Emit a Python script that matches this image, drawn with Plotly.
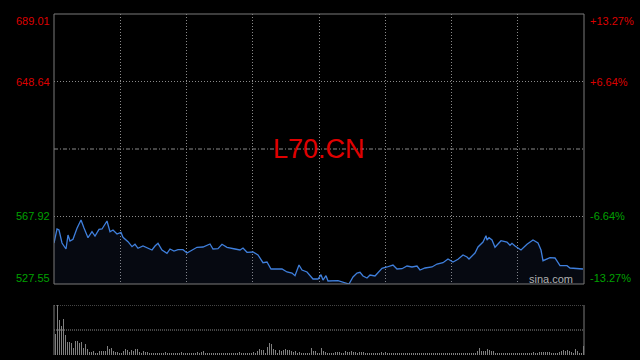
import plotly.graph_objects as go
import numpy as np

# ---- data ----
t = [0, 1.5, 2.5, 4, 6, 7, 8, 9.5, 11.5, 13.5, 15, 17, 19, 20.5, 22.5, 24, 26.5, 28, 29.5, 31.5,
     33.5, 34.5, 37, 39, 40.5, 42, 44.5, 46.5, 49, 50.5, 52, 54, 56.5, 58, 60, 62, 64.5, 66.5, 69.5, 71.5,
     74.5, 78, 79.5, 82, 84, 86.5, 90.5, 93, 94.5, 96.5, 99.5, 102, 104.5, 106.5, 108.5, 114, 116.5, 119, 120.5, 122.5,
     124, 126.5, 129.5, 132, 133.5, 134.5, 136, 137, 142, 144.5, 147.5, 149.5, 151.5, 153, 154.5, 156.5, 158, 160.5, 164, 166.5,
     169.5, 171.5, 174, 176.5, 179, 181.5, 183, 185.5, 189, 191.5, 194.5, 197, 199.5, 202, 204.5, 206.5, 207.5, 210.5, 212, 214.5,
     216, 216.5, 217.5, 219, 220.5, 222, 223.5, 226.5, 228, 229, 230.5, 233.5, 236.5, 239.5, 242, 243.5, 244.5, 248, 250.5, 253,
     256.5, 258, 261.5, 264.5]
price = [552.07, 560.44, 559.84, 552.07, 548.48, 556.85, 553.26, 554.28, 560.86, 565.82, 561.04, 555.24, 558.83, 556.25, 560.26, 560.44, 565.22, 558.83, 559.84, 557.45,
         558.47, 555.48, 552.85, 549.86, 551.29, 548.90, 550.27, 549.08, 547.88, 550.27, 551.89, 547.88, 545.91, 548.48, 547.28, 548.06, 548.06, 546.09, 547.88, 549.50,
         549.68, 551.47, 548.48, 548.66, 551.29, 549.50, 548.48, 547.88, 549.08, 546.51, 546.69, 544.89, 540.29, 540.71, 536.52, 536.52, 534.73, 534.13, 532.51, 538.91,
         535.92, 534.73, 530.54, 530.54, 533.11, 529.94, 532.51, 529.34, 529.52, 528.75, 527.55, 531.74, 534.13, 534.55, 532.33, 531.14, 532.93, 532.33, 536.94, 537.72,
         538.91, 536.52, 536.70, 538.31, 537.72, 538.31, 535.92, 537.12, 537.72, 539.51, 540.29, 542.50, 540.71, 542.32, 544.89, 543.70, 542.50, 546.09, 549.68, 552.67,
         556.43, 553.86, 555.24, 553.86, 549.50, 551.47, 553.44, 552.67, 550.69, 551.89, 550.27, 547.88, 551.29, 553.86, 552.07, 547.88, 541.48, 543.28, 543.10, 538.49,
         538.49, 537.12, 536.70, 536.52]
volume = [21, 50, 35, 29, 36, 20, 13, 13, 12, 7, 14, 14, 12, 13, 7, 11, 6, 3, 3, 4,
          2, 2, 4, 4, 4, 4, 9, 6, 7, 4, 3, 3, 2, 1, 4, 6, 5, 3, 5, 4,
          6, 6, 3, 2, 4, 3, 3, 2, 1, 2, 2, 1, 2, 1, 1, 3, 2, 1, 2, 1,
          1, 2, 1, 3, 2, 1, 1, 2, 1, 1, 2, 3, 2, 3, 4, 2, 1, 1, 2, 2,
          2, 1, 1, 2, 1, 1, 1, 1, 2, 1, 1, 2, 3, 2, 1, 1, 2, 2, 1, 3,
          2, 4, 6, 5, 5, 1, 8, 12, 11, 6, 5, 1, 5, 4, 5, 6, 5, 5, 4, 3,
          4, 2, 3, 2, 2, 1, 1, 1, 7, 4, 4, 2, 1, 7, 4, 3, 2, 2, 1, 2,
          3, 3, 3, 2, 1, 4, 3, 3, 4, 3, 3, 2, 3, 3, 3, 2, 1, 1, 1, 2,
          1, 1, 2, 3, 2, 3, 1, 1, 1, 2, 1, 1, 1, 1, 1, 1, 1, 2, 2, 1,
          1, 2, 2, 2, 1, 1, 2, 1, 2, 2, 1, 2, 2, 1, 1, 1, 2, 1, 1, 1,
          2, 2, 1, 1, 2, 1, 1, 2, 1, 1, 2, 4, 7, 4, 4, 4, 6, 5, 4, 4,
          1, 1, 2, 1, 1, 2, 1, 1, 2, 1, 2, 2, 1, 1, 2, 2, 2, 1, 2, 3,
          2, 2, 3, 3, 3, 3, 3, 3, 2, 1, 2, 1, 3, 4, 5, 4, 5, 4, 3, 1,
          6, 4, 1, 1, 9]
symbol = "L70.CN"
prev_close = 608.28
price_levels = [689.01, 648.64, 567.92, 527.55]
pct_labels = ["+13.27%", "+6.64%", "-6.64%", "-13.27%"]
level_colors = ["#dd0000", "#dd0000", "#00a000", "#00a000"]

n_minutes = 265
vol_x = np.arange(len(volume)) + 0.75

GRID = "#8a8a8a"
BORDER = "#7a7a7a"
FONT = "Liberation Sans, Arial"
GRID_DASH = "1px,2px"

fig = go.Figure()
fig.add_trace(go.Scatter(x=t, y=price, mode="lines",
                         line=dict(color="#3f7fdc", width=1.3),
                         fill="tozeroy", fillcolor="rgba(60,90,170,0.10)",
                         xaxis="x", yaxis="y", hoverinfo="skip"))
fig.add_trace(go.Bar(x=vol_x, y=volume, width=0.5,
                     marker=dict(color="#808080", line=dict(width=0)),
                     xaxis="x2", yaxis="y2", hoverinfo="skip"))

vgrid = [n_minutes * k / 8 for k in range(1, 8)]
ax_common = dict(range=[0, n_minutes], showticklabels=False, ticks="",
                 zeroline=False, showline=False, fixedrange=True)
fig.update_layout(
    width=640, height=360,
    paper_bgcolor="black", plot_bgcolor="black",
    margin=dict(l=54, r=56, t=14, b=5),
    showlegend=False,
    bargap=0,
    xaxis=dict(domain=[0, 1], anchor="y", tickvals=vgrid, showgrid=True,
               gridcolor=GRID, griddash=GRID_DASH, gridwidth=1, **ax_common),
    xaxis2=dict(domain=[0, 1], anchor="y2", showgrid=False, **ax_common),
    yaxis=dict(domain=[0.2082, 1], range=[price_levels[-1], price_levels[0]],
               tickvals=[price_levels[1], price_levels[2]], showgrid=True,
               gridcolor=GRID, griddash=GRID_DASH, gridwidth=1,
               showticklabels=False, ticks="", zeroline=False, showline=False),
    yaxis2=dict(domain=[0, 0.1466], range=[0, 50], showgrid=False,
                showticklabels=False, ticks="", zeroline=False, showline=False),
)

shapes = []
shapes.append(dict(type="rect", xref="x domain", yref="y domain", x0=0, x1=1, y0=0, y1=1,
                   line=dict(color=BORDER, width=1), layer="above"))
shapes.append(dict(type="line", xref="x domain", yref="y", x0=0, x1=1, y0=prev_close, y1=prev_close,
                   line=dict(color=GRID, width=1, dash="4px,2px,1px,2px"), layer="below"))
for yv in [50, 25]:
    shapes.append(dict(type="line", xref="x2 domain", yref="y2", x0=0, x1=1, y0=yv, y1=yv,
                       line=dict(color=GRID, width=1, dash="1px,1px"), layer="below"))
for xv in [0, 1]:
    shapes.append(dict(type="line", xref="x2 domain", yref="y2", x0=xv, x1=xv, y0=0, y1=50,
                       line=dict(color=BORDER, width=1), layer="above"))
fig.update_layout(shapes=shapes)

ann = []
yshifts = [-6.5, 0, 0, 5.7]
for lv, pct, col, ys in zip(price_levels, pct_labels, level_colors, yshifts):
    ann.append(dict(xref="x domain", yref="y", x=0, y=lv, text=f"{lv:.2f}", showarrow=False,
                    xanchor="right", yanchor="middle", xshift=-2, yshift=ys,
                    font=dict(family=FONT, size=11, color=col)))
    ann.append(dict(xref="x domain", yref="y", x=1, y=lv, text=pct, showarrow=False,
                    xanchor="left", yanchor="middle", xshift=4, yshift=ys,
                    font=dict(family=FONT, size=11, color=col)))
ann.append(dict(xref="x domain", yref="y", x=0.5, y=prev_close, text=symbol, showarrow=False,
                xanchor="center", yanchor="middle",
                font=dict(family=FONT, size=27, color="#e00000")))
ann.append(dict(xref="x domain", yref="y domain", x=0.978, y=0.0, text="sina.com", showarrow=False,
                xanchor="right", yanchor="bottom", xshift=3, yshift=-3,
                font=dict(family=FONT, size=11, color="#b0b0b0")))
fig.update_layout(annotations=ann)

fig.write_html("out.html")
